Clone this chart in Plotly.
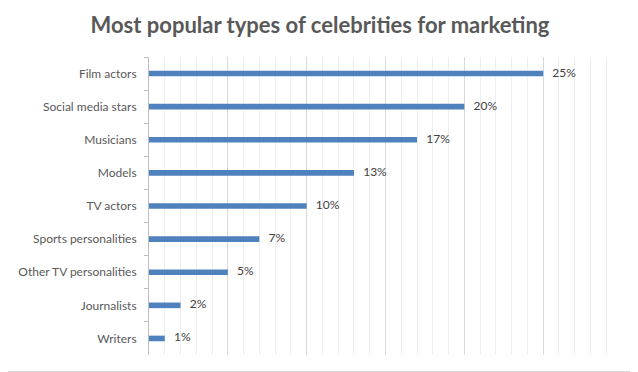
import plotly.graph_objects as go

categories = ["Film actors", "Social media stars", "Musicians", "Models", "TV actors",
              "Sports personalities", "Other TV personalities", "Journalists", "Writers"]
values = [25, 20, 17, 13, 10, 7, 5, 2, 1]
labels = ["\u00a0\u00a0\u00a0" + f"{v}%" for v in values]

FONT = "Lato, Open Sans, sans-serif"
W, H = 630, 364
L, R, T, B = 141, 16, 49, 17
PW, PH = W - L - R, H - T - B

fig = go.Figure()
fig.add_trace(go.Bar(
    y=categories, x=values, orientation="h",
    marker=dict(color="#4F81BD", line=dict(width=0)),
    width=0.17, hoverinfo="skip",
))
fig.add_trace(go.Scatter(
    y=categories, x=values, mode="text", text=labels,
    textposition="middle right", cliponaxis=False,
    textfont=dict(family=FONT, size=12, color="#404040"),
))

fig.update_layout(
    width=W, height=H,
    margin=dict(l=L, r=R, t=T, b=B, autoexpand=False),
    paper_bgcolor="white", plot_bgcolor="white",
    title=dict(text="<b>Most popular types of celebrities for marketing</b>",
               x=312 / W, xanchor="center", xref="container", yref="container",
               y=1 - 17 / H, yanchor="middle", automargin=False,
               font=dict(family=FONT, size=22, color="#595959")),
    showlegend=False,
    shapes=[dict(type="line", xref="paper", yref="paper", x0=-L / PW, x1=(PW + R) / PW,
                 y0=-(B - 0.5) / PH, y1=-(B - 0.5) / PH,
                 line=dict(color="#D9D9D9", width=1), layer="below")],
)
fig.update_xaxes(range=[0, 30], dtick=5, showgrid=True, gridcolor="#D9D9D9", gridwidth=1,
                 showticklabels=False, zeroline=False, showline=False, ticks="",
                 automargin=False,
                 minor=dict(dtick=1, showgrid=True, gridcolor="#EEEEEE", gridwidth=1))
fig.update_yaxes(autorange="reversed", showline=True, linecolor="#BFBFBF", linewidth=1,
                 ticks="outside", tickson="boundaries", ticklen=4, tickcolor="#BFBFBF",
                 ticklabelstandoff=9, automargin=False,
                 tickfont=dict(family=FONT, size=12, color="#595959"))

fig.write_html("out.html")
